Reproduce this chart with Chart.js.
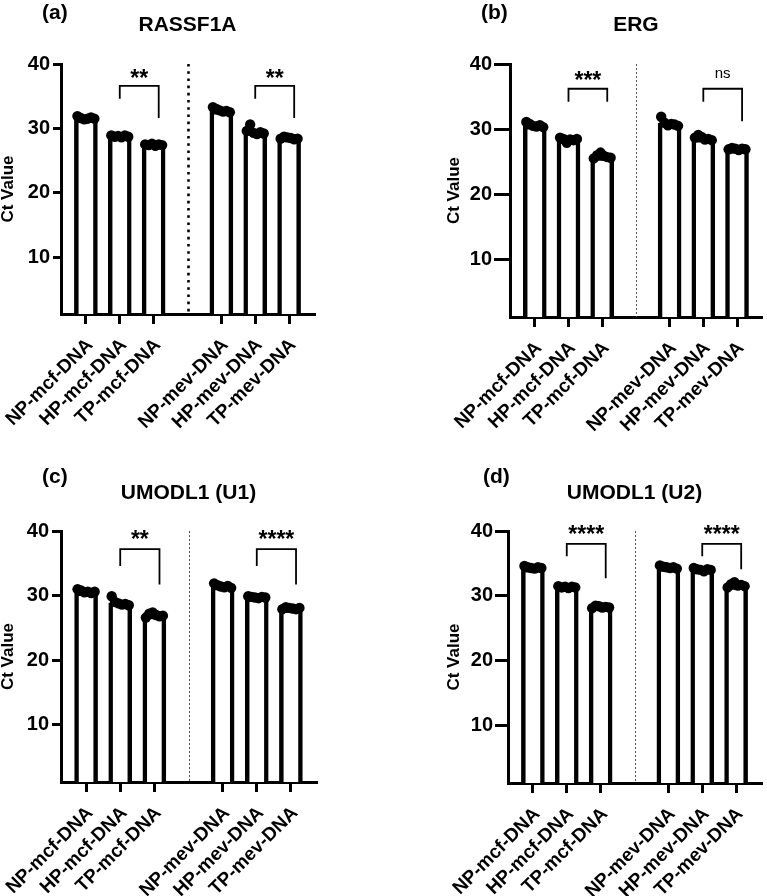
<!DOCTYPE html>
<html><head><meta charset="utf-8">
<script src="https://cdn.jsdelivr.net/npm/chart.js@4"></script>
<style>
html,body{margin:0;padding:0;background:#fff;overflow:hidden;width:767px;height:896px;position:relative;}
canvas{position:absolute;}
</style></head><body>
<canvas id="pa"></canvas><canvas id="pb"></canvas><canvas id="pc"></canvas><canvas id="pd"></canvas>
<script>
// ---------- data ----------
const categories = ['NP-mcf-DNA','HP-mcf-DNA','TP-mcf-DNA','NP-mev-DNA','HP-mev-DNA','TP-mev-DNA'];
const yTicks = [10, 20, 30, 40];

const rassf1aMeans = [31.6, 28.8, 27.45, 32.8, 29.5, 28.5];
const rassf1aReps = [
  [31.9, 31.6, 31.4, 31.5, 31.7, 31.5],
  [28.9, 28.7, 28.8, 28.6, 28.9, 28.7],
  [27.5, 27.4, 27.6, 27.3, 27.5, 27.4],
  [33.3, 33.0, 32.8, 32.6, 32.7, 32.5],
  [29.6, 30.6, 29.3, 29.1, 29.4, 29.2],
  [28.4, 28.7, 28.6, 28.5, 28.3, 28.4]
];
const rassf1aSig = ['**', '**'];

const ergMeans = [30.6, 28.4, 25.8, 30.9, 28.6, 26.9];
const ergReps = [
  [31.1, 30.8, 30.5, 30.4, 30.6, 30.3],
  [28.7, 28.5, 27.9, 28.4, 28.3, 28.5],
  [25.5, 26.0, 26.4, 25.9, 25.7, 25.6],
  [31.9, 31.0, 30.6, 30.8, 30.7, 30.5],
  [28.7, 29.1, 28.8, 28.4, 28.5, 28.3],
  [26.9, 27.1, 27.0, 26.8, 27.0, 26.9]
];
const ergSig = ['***', 'ns'];

const u1Means = [30.6, 28.9, 27.0, 31.5, 29.7, 28.0];
const u1Reps = [
  [31.0, 30.8, 30.5, 30.6, 30.4, 30.6],
  [29.9, 29.0, 28.8, 28.6, 28.7, 28.5],
  [26.6, 27.2, 27.4, 27.0, 26.8, 26.9],
  [31.9, 31.6, 31.4, 31.3, 31.5, 31.2],
  [29.9, 29.8, 29.7, 29.6, 29.8, 29.7],
  [27.9, 28.2, 28.1, 28.0, 27.9, 28.1]
];
const u1Sig = ['**', '****'];

const u2Means = [34.3, 31.3, 28.3, 34.4, 34.0, 31.6];
const u2Reps = [
  [34.6, 34.4, 34.3, 34.2, 34.4, 34.3],
  [31.5, 31.3, 31.4, 31.2, 31.4, 31.3],
  [28.1, 28.5, 28.4, 28.2, 28.3, 28.2],
  [34.7, 34.5, 34.4, 34.3, 34.4, 34.2],
  [34.3, 34.1, 34.0, 33.8, 34.1, 34.0],
  [31.3, 31.8, 32.1, 31.6, 31.7, 31.5]
];
const u2Sig = ['****', '****'];

// ---------- layout helpers ----------
const FONT = "'Liberation Sans', Arial, Helvetica, sans-serif";
const slotOf = i => (i < 3 ? i : i + 1);   // empty slot between the two groups
const labelAtSlot = v => { if (v === 3) return ''; const i = v < 3 ? v : v - 1; return categories[i] || ''; };

const panels = [
  { id:'pa', left:0, top:0, w:383, h:448, yw:61, right:314, ctop:64, bottom:314, yTick:8, yPad:3,
    letter:'(a)', lx:42, ly:13, title:'RASSF1A', ty:25, bold:true,
    means:rassf1aMeans, reps:rassf1aReps, sig:rassf1aSig,
    br:[{from:1,to:2,top:36.6,l:34.6,r:31.6,t:38.6},{from:4,to:5,top:36.6,l:34.6,r:31.6,t:38.6}] },
  { id:'pb', left:446, top:0, w:321, h:448, yw:64, right:317, ctop:64, bottom:317, yTick:16, yPad:2,
    letter:'(b)', lx:35, ly:13, title:'ERG', ty:25, bold:false,
    means:ergMeans, reps:ergReps, sig:ergSig,
    br:[{from:1,to:2,top:36.2,l:34.2,r:34.2,t:38.2},{from:4,to:5,top:36.2,l:34.2,r:31.2,t:38.5}] },
  { id:'pc', left:0, top:448, w:383, h:448, yw:61, right:316, ctop:83, bottom:334, yTick:9, yPad:3,
    letter:'(c)', lx:42, ly:29, title:'UMODL1 (U1)', ty:45, bold:false,
    means:u1Means, reps:u1Reps, sig:u1Sig,
    br:[{from:1,to:2,top:37.2,l:34.6,r:31.7,t:39.4},{from:4,to:5,top:37.2,l:34.6,r:31.7,t:39.4}] },
  { id:'pd', left:446, top:448, w:321, h:448, yw:62, right:315, ctop:83, bottom:335, yTick:13, yPad:2,
    letter:'(d)', lx:37, ly:29, title:'UMODL1 (U2)', ty:45, bold:false,
    means:u2Means, reps:u2Reps, sig:u2Sig,
    br:[{from:1,to:2,top:38.0,l:36.1,r:32.7,t:40.3},{from:4,to:5,top:38.0,l:36.1,r:34.1,t:40.3}] }
];

const annot = {
  id: 'annot',
  afterDraw(chart, args, o) {
    const {ctx, chartArea: ca, scales: {x, y}} = chart;
    const p = o.panel;
    ctx.save();
    // dotted divider between the groups
    const dx = Math.round(x.getPixelForValue(3)) + 0.5;
    ctx.beginPath();
    if (p.bold) { ctx.lineWidth = 2.6; ctx.setLineDash([2.6, 4.6]); ctx.strokeStyle = '#000'; }
    else { ctx.lineWidth = 1; ctx.setLineDash([2, 2]); ctx.strokeStyle = '#555'; }
    ctx.moveTo(dx, ca.top); ctx.lineTo(dx, ca.bottom); ctx.stroke();
    ctx.setLineDash([]);
    // significance brackets
    p.br.forEach((b, k) => {
      const x1 = x.getPixelForValue(slotOf(b.from));
      const x2 = x.getPixelForValue(slotOf(b.to) + 0.15);
      const yt = y.getPixelForValue(b.top), yl = y.getPixelForValue(b.l), yr = y.getPixelForValue(b.r);
      ctx.beginPath(); ctx.lineWidth = 1.8; ctx.strokeStyle = '#000';
      ctx.moveTo(x1, yl); ctx.lineTo(x1, yt); ctx.lineTo(x2, yt); ctx.lineTo(x2, yr); ctx.stroke();
      const label = p.sig[k];
      ctx.font = label === 'ns' ? '15px ' + FONT : 'bold 23px ' + FONT;
      const m = ctx.measureText(label);
      const cy = y.getPixelForValue(b.t);
      ctx.fillStyle = '#000'; ctx.textAlign = 'center'; ctx.textBaseline = 'alphabetic';
      ctx.fillText(label, (x1 + x2) / 2, cy + (m.actualBoundingBoxAscent - m.actualBoundingBoxDescent) / 2);
    });
    // panel letter and title
    ctx.fillStyle = '#000'; ctx.textBaseline = 'middle';
    ctx.font = 'bold 21px ' + FONT; ctx.textAlign = 'left';
    ctx.fillText(p.letter, p.lx, p.ly);
    ctx.textAlign = 'center';
    ctx.fillText(p.title, (ca.left + ca.right) / 2, p.ty);
    ctx.restore();
  }
};

panels.forEach(p => {
  const cv = document.getElementById(p.id);
  cv.width = p.w; cv.height = p.h;
  cv.style.left = p.left + 'px'; cv.style.top = p.top + 'px';
  cv.style.width = p.w + 'px'; cv.style.height = p.h + 'px';
  const margin = 0.735;
  const dots = [];
  p.reps.forEach((arr, i) => {
    const n = arr.length;
    arr.forEach((v, j) => dots.push({ x: slotOf(i) + (j - (n - 1) / 2) * 0.1, y: v }));
  });
  new Chart(cv, {
    data: {
      datasets: [
        { type: 'bar', data: p.means.map((v, i) => ({ x: slotOf(i), y: v })),
          backgroundColor: '#fff', borderColor: '#000', borderWidth: 4.5, borderSkipped: 'bottom',
          barThickness: 23, order: 2 },
        { type: 'scatter', data: dots, pointRadius: 5.2, pointBackgroundColor: '#000',
          pointBorderColor: '#000', pointBorderWidth: 0, order: 1 }
      ]
    },
    options: {
      responsive: false, animation: false, devicePixelRatio: 1, events: [],
      layout: { padding: { top: p.ctop, right: p.w - p.right, left: 0, bottom: 0 } },
      plugins: { legend: { display: false }, tooltip: { enabled: false }, annot: { panel: p } },
      scales: {
        x: {
          type: 'linear', min: -margin, max: 6 + margin, offset: false,
          afterBuildTicks: s => { s.ticks = [0, 1, 2, 4, 5, 6].map(v => ({ value: v })); },
          afterFit: s => { s.height = p.h - p.bottom; s.paddingLeft = 0; s.paddingRight = 0; },
          grid: { offset: false, drawOnChartArea: false, drawTicks: true, tickLength: 10, lineWidth: 3, color: '#000' },
          border: { display: true, width: 3, color: '#000' },
          ticks: { autoSkip: false, maxRotation: 45, minRotation: 45, padding: 10, labelOffset: 4, color: '#000',
                   font: { family: FONT, size: 19, weight: 'bold' },
                   callback: v => labelAtSlot(v) }
        },
        y: {
          type: 'linear', min: 1.15, max: 40, offset: false,
          afterBuildTicks: s => { s.ticks = yTicks.map(v => ({ value: v })); },
          afterFit: s => { s.width = p.yw; },
          grid: { drawOnChartArea: false, drawTicks: true, tickLength: p.yTick, lineWidth: 3, color: '#000' },
          border: { display: true, width: 3, color: '#000' },
          ticks: { padding: p.yPad, color: '#000', font: { family: FONT, size: 20, weight: 'bold' } },
          title: { display: true, text: 'Ct Value', color: '#000', padding: 0,
                   font: { family: FONT, size: 17, weight: 'bold', lineHeight: 1 } }
        }
      }
    },
    plugins: [annot]
  });
});
</script>
</body></html>
